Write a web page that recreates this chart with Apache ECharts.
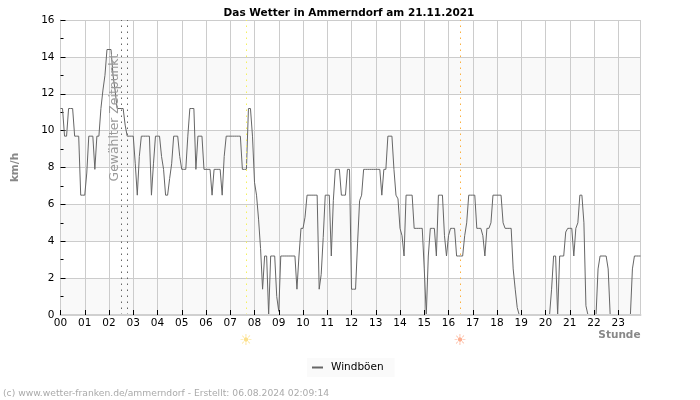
<!DOCTYPE html>
<html><head><meta charset="utf-8">
<style>html,body{margin:0;padding:0;background:#fff}#c{width:700px;height:400px}</style>
<script src="https://cdn.jsdelivr.net/npm/echarts@6/dist/echarts.min.js"></script>
</head><body><div id="c"></div>
<script>
const hourLabels = ['00','01','02','03','04','05','06','07','08','09','10','11','12','13','14','15','16','17','18','19','20','21','22','23'];
const yTicks = [0,2,4,6,8,10,12,14,16];
const sampleMinutes = 5;
const gusts = [
 11.2,11.2,9.7,9.7,11.2,11.2,11.2,9.7,9.7,9.7,6.5,6.5,
 6.5,7.7,9.7,9.7,9.7,7.9,9.7,9.7,11.2,12.2,13,14.4,
 14.4,14.4,13,12.2,11.2,11.2,11.2,11.2,10.3,9.7,9.7,9.7,
 9.7,8.2,6.5,8.6,9.7,9.7,9.7,9.7,9.7,6.5,8.2,9.7,
 9.7,9.7,8.6,7.9,6.5,6.5,7.4,8.2,9.7,9.7,9.7,8.6,
 7.9,7.9,7.9,9.7,11.2,11.2,11.2,7.9,9.7,9.7,9.7,7.9,
 7.9,7.9,7.9,6.5,7.9,7.9,7.9,7.9,6.5,8.6,9.7,9.7,
 9.7,9.7,9.7,9.7,9.7,9.7,7.9,7.9,7.9,11.2,11.2,9.7,
 7.2,6.5,5.2,3.6,1.4,3.2,3.2,0,3.2,3.2,3.2,1.0,
 0.2,3.2,3.2,3.2,3.2,3.2,3.2,3.2,3.2,1.4,3.2,4.7,
 4.7,5.3,6.5,6.5,6.5,6.5,6.5,6.5,1.4,2.2,4.2,6.5,
 6.5,6.5,3.2,6.2,7.9,7.9,7.9,6.5,6.5,6.5,7.9,7.9,
 1.4,1.4,1.4,3.9,6.2,6.5,7.9,7.9,7.9,7.9,7.9,7.9,
 7.9,7.9,7.9,6.5,7.9,7.9,9.7,9.7,9.7,7.9,6.5,6.3,
 4.7,4.3,3.2,6.5,6.5,6.5,6.5,4.7,4.7,4.7,4.7,4.7,
 2.5,0,3.2,4.7,4.7,4.7,3.2,6.5,6.5,6.5,4.3,3.2,
 4.3,4.7,4.7,4.7,3.2,3.2,3.2,3.2,4.3,5,6.5,6.5,
 6.5,6.5,4.7,4.7,4.7,4.3,3.2,4.7,4.7,5,6.5,6.5,
 6.5,6.5,6.5,5,4.7,4.7,4.7,4.7,2.5,1.4,0.4,0,
 0,0,0,0,0,0,0,0,0,0,0,0,
 0,0,0,1.4,3.2,3.2,0,3.2,3.2,3.2,4.5,4.7,
 4.7,4.7,3.2,4.7,5,6.5,6.5,5,0.5,0,0,0,
 0,0,2.5,3.2,3.2,3.2,3.2,2.5,0,0,0,0,
 0,0,0,0,0,0,0,2.5,3.2,3.2,3.2,3.2
];
const selectedHours = [2.5, 2.75];
const sunriseHour = 7.67, sunsetHour = 16.5;
const F = 'DejaVu Sans';
const hours = hourLabels.map((_, i) => i);
const xMax = (gusts.length - 1) * sampleMinutes / 60;
const vline = (x, color) => ({xAxis: x, lineStyle: {color, type: [1.5, 4.5], width: 1}});
const chart = echarts.init(document.getElementById('c'), null, {renderer: 'canvas'});
chart.setOption({
  animation: false,
  backgroundColor: '#fff',
  title: {text: 'Das Wetter in Ammerndorf am 21.11.2021', left: 344, top: 3, textAlign: 'center',
    textStyle: {fontFamily: F, fontSize: 10.5, fontWeight: 'bold', color: '#000'}},
  legend: {data: ['Windböen'], left: 307, top: 358, padding: [4, 11, 4, 5], itemGap: 0, itemWidth: 11, itemHeight: 2, icon: 'rect',
    backgroundColor: '#fafafa', selectedMode: false, textStyle: {fontFamily: F, fontSize: 10.5, color: '#000', padding: [0, 0, 0, 3]}},
  grid: {left: 60.5, right: 59.5, top: 20, bottom: 85, outerBoundsMode: 'none'},
  xAxis: [{
    type: 'value', min: 0, max: xMax, interval: 1, z: 0,
    axisLine: {show: false}, axisTick: {show: false}, axisLabel: {show: false},
    splitLine: {show: true, lineStyle: {color: '#ccc', width: 1}}
  }, {
    type: 'value', min: 0, max: xMax, interval: 1, position: 'bottom', z: 5,
    name: 'Stunde', nameLocation: 'end', nameGap: 0,
    nameTextStyle: {fontFamily: F, fontSize: 10.5, fontWeight: 'bold', color: '#888', align: 'right', verticalAlign: 'top', padding: [15, 0, 0, 0]},
    axisLine: {show: true, lineStyle: {color: '#d0d0d0', width: 2}},
    axisTick: {show: true, inside: true, length: 5, lineStyle: {color: '#000', width: 1}, customValues: hours},
    axisLabel: {fontFamily: F, fontSize: 10.5, color: '#000', margin: 3, customValues: hours, formatter: v => hourLabels[Math.round(v)]},
    splitLine: {show: false}
  }],
  yAxis: {
    type: 'value', min: 0, max: 16, interval: 2, splitNumber: 8,
    name: 'km/h', nameLocation: 'middle', nameGap: 40, nameRotate: 90,
    nameTextStyle: {fontFamily: F, fontSize: 10.5, fontWeight: 'bold', color: '#888'},
    axisLine: {show: true, lineStyle: {color: '#ccc', width: 1}},
    axisTick: {show: true, inside: true, length: 5, lineStyle: {color: '#000', width: 1}},
    minorTick: {show: true, splitNumber: 2, length: 3, lineStyle: {color: '#000', width: 1}},
    axisLabel: {fontFamily: F, fontSize: 10.5, color: '#000', margin: 6, customValues: yTicks},
    splitLine: {show: true, lineStyle: {color: '#ccc', width: 1}},
    splitArea: {show: true, areaStyle: {color: ['#f9f9f9', '#ffffff']}}
  },
  series: [{
    name: 'Windböen', type: 'line', xAxisIndex: 0, yAxisIndex: 0, showSymbol: false, symbol: 'none',
    itemStyle: {color: '#666'},
    lineStyle: {color: '#666', width: 1},
    data: gusts.map((v, i) => [i * sampleMinutes / 60, v]),
    markLine: {silent: true, symbol: 'none', animation: false, label: {show: false},
      data: [vline(selectedHours[0], '#666'), vline(selectedHours[1], '#666'),
             vline(sunriseHour, '#f5f060'), vline(sunsetHour, '#fbb040')]}
  }],
  graphic: [
    {type: 'text', x: 114.5, y: 117.5, rotation: Math.PI / 2, style: {text: 'Gewählter Zeitpunkt', fontFamily: F, fontSize: 12.4, fill: '#999', textAlign: 'center', textVerticalAlign: 'middle'}, z: 10},
    {type: 'text', x: 246, y: 341, style: {text: '☀', fontFamily: F, fontSize: 15, fill: '#fce08a', textAlign: 'center', textVerticalAlign: 'middle'}},
    {type: 'text', x: 460, y: 341, style: {text: '☀', fontFamily: F, fontSize: 15, fill: '#fdae90', textAlign: 'center', textVerticalAlign: 'middle'}},
    {type: 'text', x: 3, y: 389, style: {text: '(c) www.wetter-franken.de/ammerndorf - Erstellt: 06.08.2024 02:09:14', fontFamily: F, fontSize: 9.2, fill: '#aaa'}}
  ]
});
</script></body></html>
